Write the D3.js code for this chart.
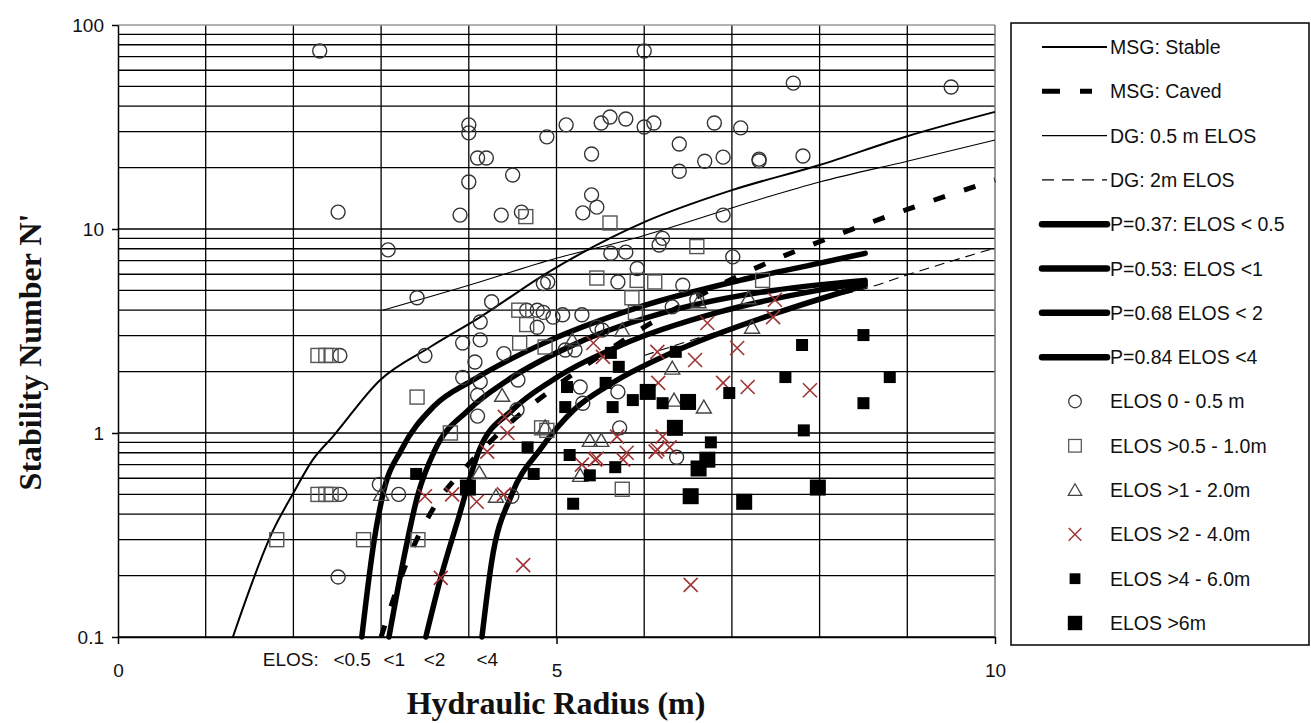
<!DOCTYPE html>
<html>
<head>
<meta charset="utf-8">
<script src="https://cdn.jsdelivr.net/npm/d3@7"></script>
<style>
  body { margin: 0; background: #fff; }
  svg { display: block; }
</style>
</head>
<body>
<div id="chart"></div>
<script>
// axis ticks
const yTicks = [0.1, 1, 10, 100];
const xTicks = [0, 5, 10];

// ELOS annotation under the P curves (hydraulic radius where each label sits)
const elosText = ["ELOS:", "<0.5", "<1", "<2", "<4"];
const elosAt = [1.97, 2.67, 3.15, 3.61, 4.21];

// design lines: [hydraulic radius, N']
const msgStable = [[1.31,0.1],[1.77,0.334],[2.0,0.508],[2.22,0.738],[2.45,0.96],[2.99,1.82],[3.56,2.64],
  [4.13,3.7],[4.89,6.08],[6.0,10.8],[7.0,15.5],[8.0,20.6],[9.0,28.5],[10.0,37.5]];
const msgCaved = [[3.0,0.1],[3.28,0.225],[3.65,0.465],[3.92,0.645],[4.5,1.15],[5.0,1.7],[5.5,2.4],[6.0,3.3],
  [6.5,4.4],[7.17,6.15],[7.6,7.4],[8.29,9.67],[9.05,12.7],[10.0,17.4]];
const dg05 = [[3.02,4.0],[4.0,5.3],[4.93,7.05],[6.0,9.3],[7.32,14.0],[8.0,17.0],[9.0,21.5],[10.0,27.3]];
const dg2 = [[6.0,2.4],[7.0,3.3],[8.0,4.5],[8.52,5.1],[9.0,5.96],[10.0,8.07]];
const p037 = [[2.78,0.1],[2.92,0.296],[3.03,0.52],[3.23,0.826],[3.6,1.35],[4.05,1.82],[4.85,2.75],[5.95,4.15],[7.09,5.6],[8.0,6.8],[8.52,7.6]];
const p053 = [[3.09,0.1],[3.25,0.233],[3.42,0.5],[3.61,0.82],[4.0,1.3],[4.43,1.8],[5.23,2.75],[6.33,4.0],[7.47,5.0],[8.52,5.6]];
const p068 = [[3.51,0.1],[3.68,0.195],[3.88,0.38],[4.12,0.826],[4.5,1.3],[4.94,1.8],[5.74,2.7],[6.84,3.9],[7.98,5.0],[8.52,5.45]];
const p084 = [[4.15,0.1],[4.26,0.233],[4.49,0.5],[4.81,0.826],[5.2,1.3],[5.63,1.75],[6.43,2.6],[7.53,3.9],[8.52,5.3]];

// case histories: [hydraulic radius, N']
const elos0 = [[2.30,74.6],[6.00,74.6],[7.70,51.9],[9.50,49.7],
  [4.00,32.4],[4.00,29.6],[4.10,22.3],[4.20,22.3],[4.00,17.0],[3.90,11.7],[4.37,11.7],[4.50,18.4],[4.60,12.1],
  [4.89,28.3],[5.11,32.4],[5.40,23.3],[5.51,33.1],[5.61,35.4],[5.79,34.6],[5.40,14.7],[5.46,12.8],[5.30,12.0],
  [6.00,31.6],[6.11,33.1],[6.40,26.1],[6.40,19.2],[6.69,21.5],[6.80,33.1],[6.90,22.5],[7.10,31.3],[7.31,22.0],
  [7.31,21.6],[7.81,22.8],[6.90,11.7],[6.21,9.0],[6.17,8.35],
  [2.51,12.1],[3.08,7.9],[3.41,4.6],[3.50,2.4],[2.53,2.4],[2.53,0.5],[2.51,0.197],[2.98,0.56],[3.20,0.5],
  [5.62,7.6],[5.79,7.7],[5.92,6.4],[4.90,5.5],[5.70,5.5],[6.44,5.3],[7.01,7.3],[6.32,4.15],[6.60,4.5],
  [4.26,4.4],[4.13,3.5],[3.93,2.76],[4.13,2.86],[4.07,2.23],[3.93,1.87],[4.13,1.78],[4.10,1.53],[4.10,1.21],
  [4.40,2.45],[4.56,1.82],[4.66,4.0],[4.78,4.0],[4.85,3.9],[4.78,3.3],[4.85,5.4],[4.96,3.7],[5.07,3.8],
  [5.29,3.8],[5.10,2.55],[5.21,2.55],[5.27,1.68],[5.70,1.59],[5.30,1.40],[5.72,1.06],[6.37,0.76],[4.55,1.30],
  [5.46,3.3],[5.52,3.2],[4.49,0.49]];
const elos1 = [[2.28,2.4],[2.37,2.4],[2.43,2.4],[2.28,0.5],[2.37,0.5],[2.43,0.5],[1.81,0.3],[2.80,0.3],
  [3.42,0.3],[3.41,1.5],[3.79,1.0],[4.65,11.5],[5.61,10.7],[6.60,8.2],[4.57,4.0],[4.66,3.4],[4.58,2.76],
  [4.83,1.06],[5.46,5.75],[5.92,5.6],[6.12,5.5],[5.86,4.6],[5.90,3.9],[7.35,5.6],[4.87,2.64],[4.89,1.03],[5.75,0.53]];
const elos2 = [[3.00,0.5],[4.12,0.64],[4.31,0.49],[5.27,0.62],[4.38,1.53],[4.87,1.07],[5.38,0.92],[5.51,0.92],
  [6.68,1.34],[6.34,1.45],[5.75,3.2],[6.62,4.4],[7.19,4.6],[7.23,3.3],[5.18,2.86],[6.32,2.08]];
const elos4 = [[3.50,0.49],[3.81,0.50],[4.09,0.46],[4.40,0.50],[3.68,0.195],[4.62,0.225],[6.53,0.18],
  [4.41,1.2],[4.44,1.0],[4.21,0.81],[5.42,2.76],[5.53,2.36],[6.15,2.5],[6.58,2.28],[6.72,3.46],[7.06,2.61],
  [7.49,4.5],[7.47,3.7],[6.16,1.76],[6.90,1.76],[7.18,1.68],[7.89,1.62],[6.21,0.96],[6.29,0.85],[6.15,0.83],
  [5.69,0.96],[5.80,0.80],[5.76,0.74],[5.44,0.74],[5.29,0.70],[5.46,0.75],[6.13,0.81]];
const elos6 = [[3.40,0.63],[4.74,0.63],[5.15,0.78],[5.38,0.62],[5.67,0.68],[5.19,0.45],[4.67,0.85],[8.50,3.02],
  [7.80,2.7],[7.61,1.88],[8.80,1.88],[8.50,1.40],[7.82,1.03],[6.97,1.57],[6.36,2.5],[5.71,2.11],[5.62,2.47],
  [5.56,1.76],[5.12,1.68],[5.10,1.34],[5.64,1.34],[5.87,1.45],[6.21,1.40],[6.76,0.90]];
const elosBig = [[6.04,1.59],[6.50,1.42],[6.35,1.06],[6.62,0.67],[6.72,0.74],[6.53,0.49],[7.14,0.46],[7.98,0.54],[3.99,0.54]];

const legendLabels = ["MSG: Stable", "MSG: Caved", "DG: 0.5 m ELOS", "DG: 2m ELOS", "P=0.37: ELOS < 0.5",
  "P=0.53: ELOS <1", "P=0.68 ELOS < 2", "P=0.84 ELOS <4", "ELOS 0 - 0.5 m", "ELOS >0.5 - 1.0m",
  "ELOS >1 - 2.0m", "ELOS >2 - 4.0m", "ELOS >4 - 6.0m", "ELOS >6m"];

const sans = "'Liberation Sans', Arial, sans-serif",
  serif = "'Liberation Serif', 'Times New Roman', serif";

const svg = d3.select("#chart").append("svg")
  .attr("width", 1311).attr("height", 723);

const x = d3.scaleLinear().domain([0, 10]).range([118, 995]);
const y = d3.scaleLog().domain([0.1, 100]).range([637, 25]);

// grid
svg.append("g").selectAll("line")
  .data(y.ticks().filter(d => d < 99))
  .join("line")
  .attr("x1", x(0)).attr("x2", x(10))
  .attr("y1", d => y(d)).attr("y2", d => y(d))
  .attr("stroke", "#000").attr("stroke-width", 1.3);

svg.append("g").selectAll("line")
  .data(d3.range(1, 10))
  .join("line")
  .attr("x1", d => x(d)).attr("x2", d => x(d))
  .attr("y1", y(0.1)).attr("y2", y(100))
  .attr("stroke", "#000").attr("stroke-width", 1.3);

svg.append("line")
  .attr("x1", x(0)).attr("x2", x(10)).attr("y1", y(100)).attr("y2", y(100))
  .attr("stroke", "#999").attr("stroke-width", 1.5);
svg.append("line")
  .attr("x1", x(10)).attr("x2", x(10)).attr("y1", y(100)).attr("y2", y(0.1))
  .attr("stroke", "#777").attr("stroke-width", 1.5);

// axes
const yAxis = svg.append("g")
  .attr("transform", `translate(${x(0)},0)`)
  .call(d3.axisLeft(y).tickValues(yTicks).tickFormat(d3.format("~g"))
    .tickSize(6).tickPadding(8).tickSizeOuter(0));

const xAxis = svg.append("g")
  .attr("transform", `translate(0,${y(0.1)})`)
  .call(d3.axisBottom(x).tickValues(xTicks).tickSize(7).tickPadding(20).tickSizeOuter(0));

[yAxis, xAxis].forEach(a => {
  a.attr("font-family", sans).attr("font-size", 19);
  a.selectAll("text").attr("fill", "#111");
  a.selectAll("line,path").attr("stroke", "#000").attr("stroke-width", 1.5);
});

svg.append("g").selectAll("text")
  .data(elosText)
  .join("text")
  .attr("x", (d, i) => x(elosAt[i]))
  .attr("y", 666)
  .attr("text-anchor", "middle")
  .attr("font-family", sans).attr("font-size", 19).attr("fill", "#111")
  .text(d => d);

// titles
svg.append("text")
  .attr("x", 556).attr("y", 714)
  .attr("text-anchor", "middle")
  .attr("font-family", serif).attr("font-weight", "bold").attr("font-size", 32)
  .attr("fill", "#111")
  .text("Hydraulic Radius (m)");

svg.append("text")
  .attr("transform", "translate(41,352) rotate(-90)")
  .attr("text-anchor", "middle")
  .attr("font-family", serif).attr("font-weight", "bold").attr("font-size", 32)
  .attr("fill", "#111")
  .text("Stability Number N'");

// lines
const line = d3.line()
  .x(d => x(d[0])).y(d => y(d[1]))
  .curve(d3.curveMonotoneX);

const lineStyles = [
  { data: msgStable, w: 2, dash: null },
  { data: dg05, w: 1.1, dash: null },
  { data: dg2, w: 1.1, dash: "10,6" },
  { data: msgCaved, w: 5, dash: "12,20" },
  { data: p037, w: 5.5, dash: null },
  { data: p053, w: 5.5, dash: null },
  { data: p068, w: 5.5, dash: null },
  { data: p084, w: 5.5, dash: null }
];

svg.append("g").selectAll("path")
  .data(lineStyles)
  .join("path")
  .attr("d", d => line(d.data))
  .attr("fill", "none")
  .attr("stroke", "#000")
  .attr("stroke-width", d => d.w)
  .attr("stroke-dasharray", d => d.dash)
  .attr("stroke-linecap", d => d.w > 5 ? "round" : "butt");

// marker shapes
function drawMarker(sel, type) {
  if (type == "circle") {
    sel.append("circle").attr("r", 7)
      .attr("fill", "none").attr("stroke", "#333").attr("stroke-width", 1.4);
  } else if (type == "square") {
    sel.append("rect").attr("x", -7).attr("y", -7).attr("width", 14).attr("height", 14)
      .attr("fill", "none").attr("stroke", "#555").attr("stroke-width", 1.4);
  } else if (type == "triangle") {
    sel.append("path").attr("d", "M0,-7L7.5,6L-7.5,6Z")
      .attr("fill", "none").attr("stroke", "#444").attr("stroke-width", 1.4);
  } else if (type == "cross") {
    sel.append("path").attr("d", "M-7,-7L7,7M-7,7L7,-7")
      .attr("fill", "none").attr("stroke", "#a03434").attr("stroke-width", 1.6);
  } else if (type == "filled") {
    sel.append("rect").attr("x", -6).attr("y", -6).attr("width", 12).attr("height", 12).attr("fill", "#000");
  } else if (type == "big") {
    sel.append("rect").attr("x", -8).attr("y", -8).attr("width", 16).attr("height", 16).attr("fill", "#000");
  }
}

const series = [
  { data: elos0, type: "circle" },
  { data: elos1, type: "square" },
  { data: elos2, type: "triangle" },
  { data: elos4, type: "cross" },
  { data: elos6, type: "filled" },
  { data: elosBig, type: "big" }
];

series.forEach(s => {
  svg.append("g").selectAll("g")
    .data(s.data)
    .join("g")
    .attr("transform", d => `translate(${x(d[0])},${y(d[1])})`)
    .each(function () { drawMarker(d3.select(this), s.type); });
});

// legend
const legend = svg.append("g");
legend.append("rect")
  .attr("x", 1011).attr("y", 23).attr("width", 298).attr("height", 622)
  .attr("fill", "#fff").attr("stroke", "#000").attr("stroke-width", 1.5);

const legendRow = d3.scalePoint().domain(d3.range(legendLabels.length)).range([47, 623]);
const legendKeys = [
  { w: 2, dash: null }, { w: 5, dash: "18,20,12,100" }, { w: 1.2, dash: null }, { w: 1.2, dash: "12,8" },
  { w: 6.5, dash: null }, { w: 6.5, dash: null }, { w: 6.5, dash: null }, { w: 6.5, dash: null }
];

legend.selectAll("text")
  .data(legendLabels)
  .join("text")
  .attr("x", 1110)
  .attr("y", (d, i) => legendRow(i) + 7)
  .attr("font-family", sans).attr("font-size", 19.5).attr("fill", "#111")
  .text(d => d);

legend.selectAll("line")
  .data(legendKeys)
  .join("line")
  .attr("x1", 1042).attr("x2", 1107)
  .attr("y1", (d, i) => legendRow(i)).attr("y2", (d, i) => legendRow(i))
  .attr("stroke", "#000")
  .attr("stroke-width", d => d.w)
  .attr("stroke-dasharray", d => d.dash)
  .attr("stroke-linecap", d => d.w > 5 ? "round" : "butt");

series.forEach((s, i) => {
  const m = legend.append("g");
  drawMarker(m, s.type);
  m.attr("transform", `translate(1075,${legendRow(i + 8)}) scale(0.9)`);
});
</script>
</body>
</html>
